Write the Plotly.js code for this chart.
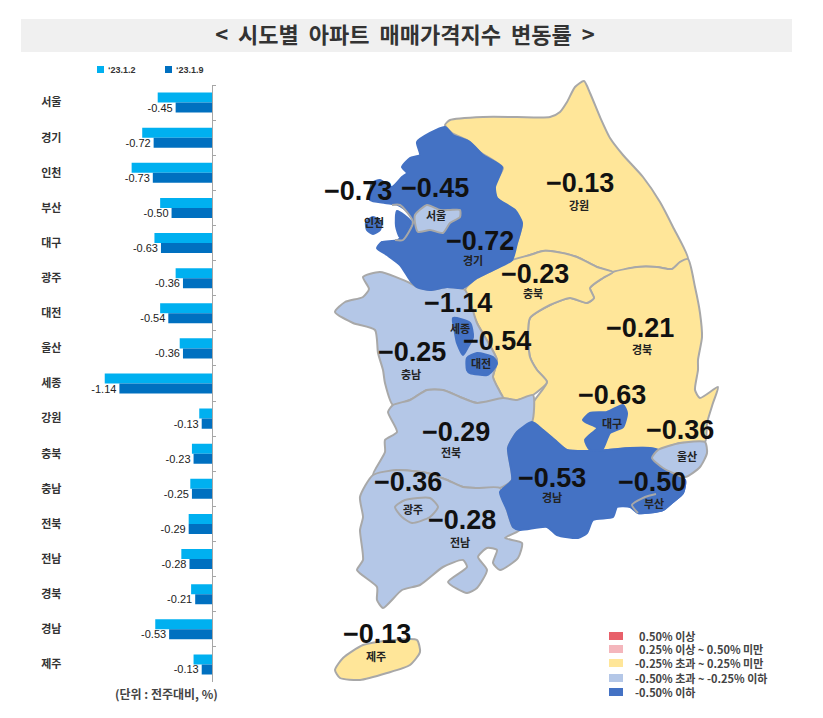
<!DOCTYPE html>
<html>
<head>
<meta charset="utf-8">
<script src="https://cdn.plot.ly/plotly-3.0.1.min.js"></script>
<style>html,body{margin:0;padding:0;background:#fff}</style>
</head>
<body>
<div id="plot" style="width:823px;height:718px"></div>
<script>
// bar chart data
let regions = ["서울","경기","인천","부산","대구","광주","대전","울산","세종","강원","충북","충남","전북","전남","경북","경남","제주"];
let jan2 = [-0.67,-0.86,-0.99,-0.64,-0.71,-0.45,-0.64,-0.40,-1.32,-0.16,-0.25,-0.27,-0.29,-0.38,-0.26,-0.70,-0.23];
let jan9 = [-0.45,-0.72,-0.73,-0.50,-0.63,-0.36,-0.54,-0.36,-1.14,-0.13,-0.23,-0.25,-0.29,-0.28,-0.21,-0.53,-0.13];
let seriesNames = ["‘23.1.2","‘23.1.9"];
let seriesColors = ["#00B0F0","#0070C0"];
let seriesSwatchX = [97,165];

// map label positions, same order as regions
let valueLabelX = [435,480,358,652,612,408,497,680,458,580,535,412,456,462,640,552,377];
let valueLabelY = [188,241,191,482,395,482,341,430,303,183,274,352,432,520,328,478,634];
let nameLabelX = [436,473,374,654,612,413,481,687,460,579,533,411,451,460,642,552,376];
let nameLabelY = [215,260,222,503,423,509,363,456,328,205,293,374,452,542,349,497,656];

// legend of the map
let classLabels = ["0.50% 이상","0.25% 이상 ~ 0.50% 미만","-0.25% 초과 ~ 0.25% 미만","-0.50% 초과 ~ -0.25% 이하","-0.50% 이하"];
let classColors = ["#E8606A","#F4B6BC","#FFE699","#B4C7E7","#4472C4"];
let classY = [636,649,663,678,692];
let classTextX = [637,637,633,633,633];

// region colours
let yellow = classColors[2], pale = classColors[3], blue = classColors[4];
let border = "#A8A8A8";

// region outlines, as [x, y] in page pixels
let gangwon = [[445,125],[450,120],[483,117],[517,117],[550,117],[560,112],[567,102],[575,87],[584,81],[590,93],[600,117],[610,138],[623,155],[643,177],[660,202],[673,227],[688,259],[680,262],[672,269],[657,267],[637,267],[613,272],[597,267],[577,257],[557,252],[543,251],[530,255],[512,260],[518,240],[522,223],[513,210],[497,198],[493,187],[503,168],[493,160],[480,152],[467,140],[452,133]];
let chungbuk = [[512,260],[530,255],[543,251],[557,252],[577,257],[597,267],[613,272],[603,278],[590,288],[594,298],[587,303],[570,298],[550,305],[530,318],[528,337],[530,357],[537,370],[547,382],[533,395],[517,400],[503,398],[500,392],[493,377],[497,360],[477,323],[465,290],[477,278],[493,270]];
let gyeongbuk = [[688,259],[695,287],[700,313],[702,337],[698,360],[698,370],[695,390],[700,398],[718,387],[713,403],[707,423],[705,442],[680,443],[658,450],[650,448],[630,448],[607,450],[590,451],[567,450],[557,442],[543,430],[532,422],[533,403],[547,382],[537,370],[530,357],[528,337],[530,318],[550,305],[570,298],[587,303],[594,298],[590,288],[603,278],[613,272],[637,267],[657,267],[672,269],[680,262]];
let chungnam = [[335,312],[345,302],[363,297],[369,289],[363,277],[380,272],[410,283],[417,287],[430,290],[447,287],[465,290],[477,323],[497,360],[493,377],[500,392],[503,398],[477,403],[460,397],[443,390],[427,390],[410,400],[393,405],[385,383],[383,370],[378,353],[375,330],[353,323]];
let jeonbuk = [[393,405],[410,400],[427,390],[443,390],[460,397],[477,403],[503,398],[517,400],[533,395],[532,422],[517,432],[508,448],[512,480],[500,488],[477,488],[463,487],[447,480],[427,473],[397,470],[373,475],[385,452],[385,440],[397,432],[388,412]];
let jeonnam = [[373,475],[397,470],[427,473],[447,480],[463,487],[477,488],[500,488],[507,510],[513,527],[520,530],[505,538],[522,543],[518,558],[500,570],[493,563],[497,550],[487,548],[478,557],[487,570],[477,588],[467,593],[448,582],[467,567],[463,560],[443,567],[420,585],[402,590],[383,608],[377,600],[377,587],[357,570],[363,560],[360,530],[363,517],[360,497]];
let gwangju = [[395,507],[405,500],[430,498],[438,507],[430,517],[412,523],[402,517]];
let gyeongnam = [[532,422],[543,430],[557,442],[567,450],[590,451],[607,450],[630,448],[650,448],[658,450],[652,458],[663,468],[685,480],[683,493],[673,502],[663,510],[638,513],[630,507],[617,507],[613,517],[593,520],[587,533],[578,538],[557,535],[547,527],[520,530],[513,527],[507,510],[500,492],[512,480],[508,448],[517,432]];
let busan = [[685,480],[683,493],[673,502],[663,510],[638,513],[632,505],[645,497],[663,492]];
let busanEdge = [[638,513],[632,505],[645,497],[656,494]];
let ulsan = [[652,458],[658,450],[680,443],[705,442],[707,453],[700,467],[685,477],[663,468]];
let daegu = [[583,420],[590,413],[607,412],[623,405],[627,413],[623,427],[610,433],[602,450],[590,450],[585,440],[597,428],[587,423]];
let gyeonggi = [[445,127],[453,135],[470,142],[483,155],[502,167],[495,187],[497,198],[515,210],[522,223],[517,243],[512,260],[493,270],[477,278],[463,288],[447,287],[430,290],[417,287],[410,280],[400,265],[387,255],[377,248],[382,242],[398,240],[413,222],[408,212],[398,205],[385,203],[370,200],[372,183],[380,180],[392,187],[402,177],[407,173],[402,167],[410,158],[420,155],[417,142],[430,133]];
let seoul = [[415,215],[427,205],[440,210],[450,210],[460,210],[460,217],[450,223],[443,233],[430,230],[418,232],[415,223]];
let incheon = [[397,211],[411,222],[400,237],[396,226]];
let incheonCoast = [[392,205],[400,205],[413,222],[403,240],[395,240]];
let incheonIsland = [[366,222],[373,217],[381,222],[380,230],[373,234],[367,230]];
let sejong = [[453,318],[470,323],[473,337],[468,347],[463,355],[457,343],[455,333]];
let daejeon = [[467,358],[477,353],[493,357],[497,363],[493,370],[487,375],[470,373],[467,370]];
let jeju = [[335,670],[343,658],[363,645],[393,640],[417,640],[420,652],[410,665],[387,673],[360,680],[340,678]];

// draw one region as a filled trace on the map axes
function regionTrace(outline, color, lineColor) {
    let closed = outline.concat([outline[0]]);
    return {
        x: closed.map(p => p[0]),
        y: closed.map(p => p[1]),
        xaxis: "x2",
        yaxis: "y2",
        type: "scatter",
        mode: "lines",
        fill: "toself",
        fillcolor: color,
        line: {color: lineColor, width: 2, shape: "spline", smoothing: 0.6},
        hoverinfo: "skip",
        showlegend: false
    };
}

// open gray line with no fill
function edgeTrace(points) {
    return {
        x: points.map(p => p[0]),
        y: points.map(p => p[1]),
        xaxis: "x2",
        yaxis: "y2",
        type: "scatter",
        mode: "lines",
        line: {color: border, width: 2, shape: "spline", smoothing: 0.6},
        hoverinfo: "skip",
        showlegend: false
    };
}

let mapTraces = [
    regionTrace(gangwon, yellow, border),
    regionTrace(gyeongbuk, yellow, border),
    regionTrace(chungbuk, yellow, border),
    regionTrace(chungnam, pale, border),
    regionTrace(jeonbuk, pale, border),
    regionTrace(jeonnam, pale, border),
    regionTrace(gwangju, pale, border),
    regionTrace(gyeongnam, blue, blue),
    regionTrace(busan, blue, blue),
    edgeTrace(busanEdge),
    regionTrace(ulsan, pale, border),
    regionTrace(daegu, blue, blue),
    regionTrace(gyeonggi, blue, blue),
    regionTrace(seoul, pale, border),
    edgeTrace(incheonCoast),
    regionTrace(incheon, blue, blue),
    regionTrace(incheonIsland, blue, blue),
    regionTrace(sejong, blue, blue),
    regionTrace(daejeon, blue, blue),
    regionTrace(jeju, yellow, border)
];

// the two weekly series
let trace1 = {
    x: jan2,
    y: regions,
    name: seriesNames[0],
    type: "bar",
    orientation: "h",
    marker: {color: seriesColors[0]},
    showlegend: false,
    hoverinfo: "x+y"
};
let trace2 = {
    x: jan9,
    y: regions,
    name: seriesNames[1],
    type: "bar",
    orientation: "h",
    marker: {color: seriesColors[1]},
    texttemplate: "%{x:.2f}",
    textposition: "outside",
    constraintext: "none",
    cliponaxis: false,
    showlegend: false,
    textfont: {family: "'Liberation Sans'", size: 11, color: "#222"},
    hoverinfo: "x+y"
};

let annotations = [];
let labelFont = {family: "'Noto Sans CJK KR'", size: 11, color: "#222", weight: 700};

// big numbers and region names on the map
for (let i = 0; i < regions.length; i++) {
    annotations.push({
        xref: "x2", yref: "y2", x: valueLabelX[i], y: valueLabelY[i],
        text: jan9[i].toFixed(2).replace("-", "−"),
        showarrow: false,
        font: {family: "'Liberation Sans'", size: 27, color: "#111", weight: 700}
    });
    annotations.push({
        xref: "x2", yref: "y2", x: nameLabelX[i], y: nameLabelY[i],
        text: regions[i],
        showarrow: false,
        font: labelFont
    });
}

let shapes = [
    {type: "rect", xref: "x2", yref: "y2", x0: 21, x1: 792, y0: 19, y1: 52, fillcolor: "#F0F0F0", line: {width: 0}, layer: "below"}
];

// legend of the bars
for (let i = 0; i < seriesNames.length; i++) {
    shapes.push({
        type: "rect", xref: "x2", yref: "y2",
        x0: seriesSwatchX[i], x1: seriesSwatchX[i] + 7, y0: 66, y1: 73,
        fillcolor: seriesColors[i], line: {width: 0}
    });
    annotations.push({
        xref: "x2", yref: "y2", x: seriesSwatchX[i] + 9, y: 70,
        xanchor: "left",
        text: seriesNames[i],
        showarrow: false,
        font: {family: "'Liberation Sans'", size: 9, color: "#333", weight: 700}
    });
}

// map legend, swatches and text
for (let i = 0; i < classLabels.length; i++) {
    shapes.push({
        type: "rect", xref: "x2", yref: "y2",
        x0: 609, x1: 623, y0: classY[i] - 4, y1: classY[i] + 4,
        fillcolor: classColors[i], line: {width: 0}
    });
    annotations.push({
        xref: "x2", yref: "y2", x: classTextX[i], y: classY[i],
        xanchor: "left",
        text: classLabels[i],
        showarrow: false,
        font: {family: "'Noto Sans CJK KR'", size: 11, color: "#444", weight: 700}
    });
}

annotations.push({
    xref: "x2", yref: "y2", x: 166, y: 693,
    text: "(단위 : 전주대비, %)",
    showarrow: false,
    font: {family: "'Noto Sans CJK KR'", size: 12, color: "#444", weight: 700}
});

let layout = {
    width: 823,
    height: 718,
    margin: {l: 0, r: 0, t: 0, b: 0},
    paper_bgcolor: "#fff",
    plot_bgcolor: "rgba(0,0,0,0)",
    title: {
        text: "<  시도별  아파트  매매가격지수  변동률  >".replace(/ /g, "\u00a0"),
        x: 0.492, xanchor: "center",
        y: 0.951, yanchor: "middle",
        font: {family: "'Noto Sans CJK KR'", size: 22, color: "#333", weight: 700}
    },
    barmode: "group",
    bargap: 0.43,
    bargroupgap: 0,
    xaxis: {
        domain: [60 / 823, 212.3 / 823],
        range: [-1.869, 0],
        showgrid: false,
        zeroline: false,
        showline: false,
        showticklabels: false,
        ticks: ""
    },
    yaxis: {
        domain: [1 - 682 / 718, 1 - 85 / 718],
        anchor: "x",
        side: "right",
        autorange: "reversed",
        showgrid: false,
        zeroline: false,
        showline: true,
        linecolor: "#A6A6A6",
        linewidth: 1,
        ticks: "outside",
        ticklen: 3,
        tickcolor: "#A6A6A6",
        tickson: "boundaries",
        ticklabelposition: "inside",
        ticklabelstandoff: 150,
        tickfont: {family: "'Noto Sans CJK KR'", size: 11, color: "#333", weight: 700}
    },
    xaxis2: {domain: [0, 1], range: [0, 823], visible: false, anchor: "y2"},
    yaxis2: {domain: [0, 1], range: [718, 0], visible: false, anchor: "x2"},
    showlegend: false,
    shapes: shapes,
    annotations: annotations
};

Plotly.newPlot("plot", mapTraces.concat([trace1, trace2]), layout, {displayModeBar: false});
</script>
</body>
</html>
